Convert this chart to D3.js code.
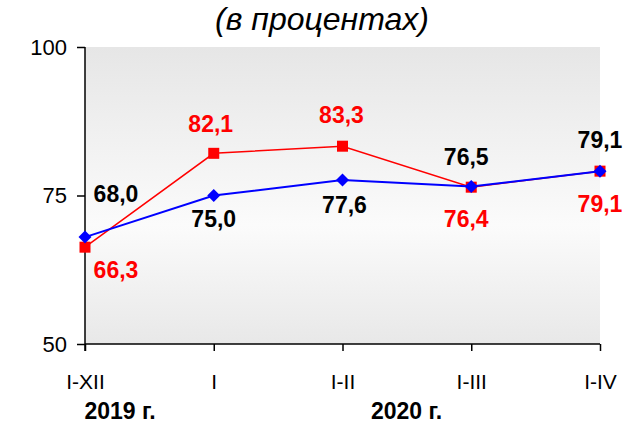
<!DOCTYPE html>
<html><head><meta charset="utf-8">
<script src="https://cdn.jsdelivr.net/npm/d3@7"></script>
<style>body{margin:0;background:#fff}svg{display:block;font-family:Arial,"Liberation Sans",sans-serif}</style>
</head><body>
<script>
const categories = ["I-XII","I","I-II","I-III","I-IV"];
const redValues  = [66.3, 82.1, 83.3, 76.4, 79.1];
const blueValues = [68.0, 75.0, 77.6, 76.5, 79.1];
const redLabels  = ["66,3","82,1","83,3","76,4","79,1"];
const blueLabels = ["68,0","75,0","77,6","76,5","79,1"];
const yTicks = [50, 75, 100];
const yearLabels = ["2019 г.", "2020 г."];
const title = "(в процентах)";

const W = 639, H = 430;
const m = {left:85, right:39, top:47, bottom:86};
const FONT = "Arial, 'Liberation Sans', sans-serif";
const svg = d3.select("body").append("svg").attr("width", W).attr("height", H);

const x = d3.scalePoint().domain(categories).range([m.left, W - m.right]).padding(0);
const y = d3.scaleLinear().domain([50, 100]).range([H - m.bottom, m.top]);

const defs = svg.append("defs");
const g = defs.append("linearGradient").attr("id","bg").attr("x1",0).attr("x2",0).attr("y1",0).attr("y2",1);
g.append("stop").attr("offset","0%").attr("stop-color","#e6e6e6");
g.append("stop").attr("offset","60%").attr("stop-color","#fbfbfb");
g.append("stop").attr("offset","100%").attr("stop-color","#e8e8e8");

svg.append("rect").attr("x", m.left).attr("y", m.top)
  .attr("width", W - m.right - m.left).attr("height", H - m.bottom - m.top)
  .attr("fill", "url(#bg)");

svg.append("text").attr("x", 322).attr("y", 30).attr("text-anchor","middle")
  .attr("font-size", 32).attr("font-style","italic").text(title);

// axes
const yAxis = svg.append("g").attr("transform", `translate(${m.left},0)`)
  .call(d3.axisLeft(y).tickValues(yTicks).tickSize(8).tickPadding(10).tickFormat(d3.format("d")));
yAxis.select(".domain").attr("d", `M0,${y(100)}V${y(50)+7}`).attr("stroke","#000").attr("stroke-width",1.5);
yAxis.selectAll("text").attr("font-size", 22).attr("fill","#000").attr("font-family",FONT);
yAxis.selectAll("line").attr("stroke-width",1.5);

const xAxis = svg.append("g").attr("transform", `translate(0,${y(50)})`)
  .call(d3.axisBottom(x).tickSize(7).tickPadding(23));
xAxis.select(".domain").attr("d", `M${m.left},0H${W - m.right}`).attr("stroke","#000").attr("stroke-width",1.5);
xAxis.selectAll("text").attr("font-size", 21).attr("fill","#000").attr("font-family",FONT);
xAxis.selectAll("line").attr("stroke-width",1.5);

svg.append("text").attr("x", x(categories[0]) + 35).attr("y", 419).attr("text-anchor","middle")
  .attr("font-size", 23).attr("font-weight","bold").text(yearLabels[0]);
svg.append("text").attr("x", x(categories[2]) + 64).attr("y", 419).attr("text-anchor","middle")
  .attr("font-size", 23).attr("font-weight","bold").text(yearLabels[1]);

const line = d3.line().x((d,i)=>x(categories[i])).y(d=>y(d));

// red series
svg.append("path").datum(redValues).attr("d", line).attr("fill","none").attr("stroke","#ff0000").attr("stroke-width",1.5);
svg.selectAll(".rm").data(redValues).enter().append("rect")
  .attr("x",(d,i)=>x(categories[i])-5.5).attr("y",d=>y(d)-5.5).attr("width",11).attr("height",11).attr("fill","#ff0000");

// blue series
svg.append("path").datum(blueValues).attr("d", line).attr("fill","none").attr("stroke","#0000ff").attr("stroke-width",2);
svg.selectAll(".bm").data(blueValues).enter().append("path")
  .attr("d",(d,i)=>{const cx=x(categories[i]), cy=y(d), r=6.5; return `M${cx},${cy-r}L${cx+r},${cy}L${cx},${cy+r}L${cx-r},${cy}Z`;})
  .attr("fill","#0000ff");

// label offsets (dx, dy of baseline relative to the point)
const redOff  = [[31,31],[-3,-21],[-1,-23],[-5,40],[0,41]];
const blueOff = [[31,-35],[0,31],[2,33],[-5,-22],[0,-23]];
svg.selectAll(".rl").data(redValues).enter().append("text")
  .attr("x",(d,i)=>x(categories[i])+redOff[i][0]).attr("y",(d,i)=>y(d)+redOff[i][1])
  .attr("text-anchor","middle").attr("font-size",23).attr("font-weight","bold").attr("fill","#ff0000")
  .text((d,i)=>redLabels[i]);
svg.selectAll(".bl").data(blueValues).enter().append("text")
  .attr("x",(d,i)=>x(categories[i])+blueOff[i][0]).attr("y",(d,i)=>y(d)+blueOff[i][1])
  .attr("text-anchor","middle").attr("font-size",23).attr("font-weight","bold").attr("fill","#000")
  .text((d,i)=>blueLabels[i]);
</script>
</body></html>
